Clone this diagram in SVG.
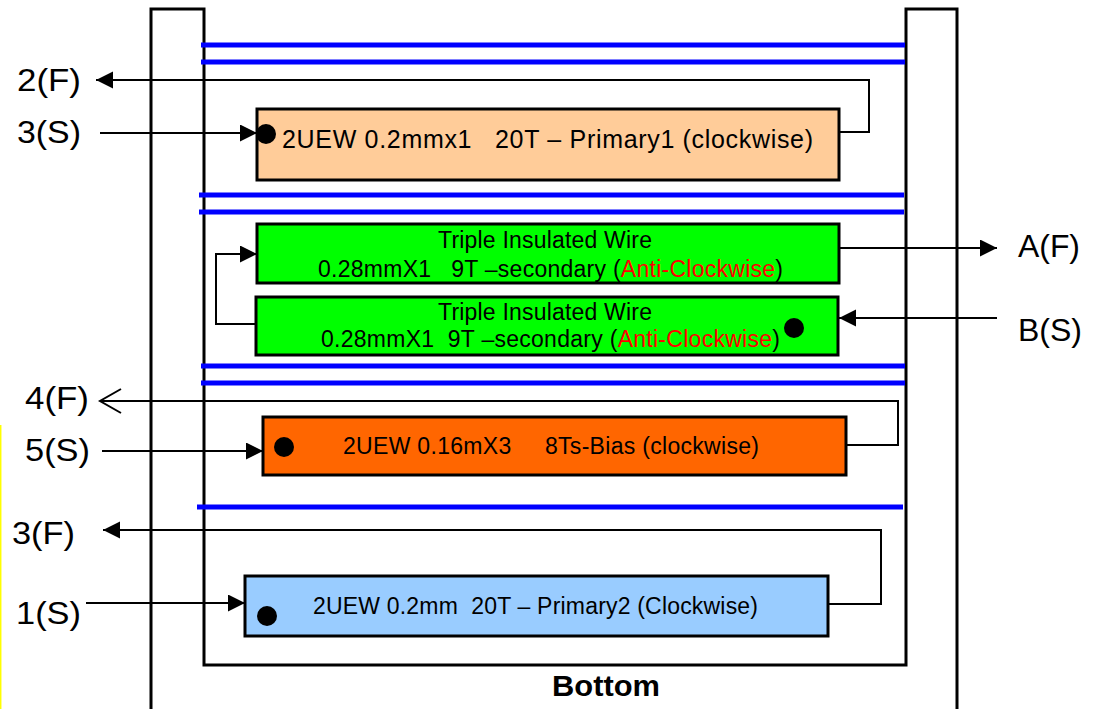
<svg xmlns="http://www.w3.org/2000/svg" width="1103" height="709" viewBox="0 0 1103 709">
<style>
.wall{fill:none;stroke:#000;stroke-width:3}
.tape{stroke:#0000FF;stroke-width:5}
.box{stroke:#000;stroke-width:3}
.wire{fill:none;stroke:#000;stroke-width:2}
.lbl{font-family:"Liberation Sans",Arial,sans-serif;font-size:31px;fill:#000}
.txt{font-family:"Liberation Sans",Arial,sans-serif;fill:#000}
.red{fill:#FF0000}
.dot{fill:#000}
</style>
<defs>
<marker id="ah" markerUnits="userSpaceOnUse" markerWidth="18" markerHeight="18" refX="17" refY="8.5" orient="auto">
<path d="M0,0 L17,8.5 L0,17 z" fill="#000"/>
</marker>
<marker id="ao" markerUnits="userSpaceOnUse" markerWidth="26" markerHeight="28" refX="22" refY="13" orient="auto">
<path d="M1,1 L22,13 L1,25" fill="none" stroke="#000" stroke-width="2"/>
</marker>
</defs>
<rect width="1103" height="709" fill="#fff"/>
<line x1="0.7" y1="425" x2="0.7" y2="709" stroke="#FFFF00" stroke-width="1.5"/>
<g id="bobbin">
<path class="wall" d="M151,709 V9 H204 V665 H906 V9 H957 V709"/>
</g>
<g id="tapes">
<line class="tape" x1="201" y1="45" x2="905" y2="45"/>
<line class="tape" x1="201" y1="62" x2="905" y2="62"/>
<line class="tape" x1="199" y1="195" x2="904" y2="195"/>
<line class="tape" x1="199" y1="212" x2="904" y2="212"/>
<line class="tape" x1="201" y1="366" x2="905" y2="366"/>
<line class="tape" x1="201" y1="383" x2="905" y2="383"/>
<line class="tape" x1="197" y1="507" x2="903" y2="507"/>
</g>
<g id="connectors">
<path class="wire" d="M835,132 H869 V80 H96" marker-end="url(#ah)"/>
<path class="wire" d="M100,133 H257" marker-end="url(#ah)"/>
<path class="wire" d="M256,324 H216 V254 H257" marker-end="url(#ah)"/>
<path class="wire" d="M840,248 H997" marker-end="url(#ah)"/>
<path class="wire" d="M997,318 H839" marker-end="url(#ah)"/>
<path class="wire" d="M846,445 H898 V401 H100" marker-end="url(#ao)"/>
<path class="wire" d="M102,451 H263" marker-end="url(#ah)"/>
<path class="wire" d="M828,604 H881 V530 H103" marker-end="url(#ah)"/>
<path class="wire" d="M86,603 H245" marker-end="url(#ah)"/>
</g>
<g id="primary1">
<rect class="box" x="257" y="109" width="582" height="71" fill="#FFCC99"/>
<circle class="dot" cx="266" cy="134" r="10"/>
<text class="txt" x="282" y="148" font-size="25" textLength="531" xml:space="preserve">2UEW 0.2mmx1   20T – Primary1 (clockwise)</text>
</g>
<g id="secondary1">
<rect class="box" x="257" y="224" width="582" height="59" fill="#00FF00"/>
<text class="txt" x="438" y="248" font-size="23" textLength="214">Triple Insulated Wire</text>
<text class="txt" x="318" y="277" font-size="23" textLength="465" xml:space="preserve">0.28mmX1   9T –secondary (<tspan class="red">Anti-Clockwise</tspan>)</text>
</g>
<g id="secondary2">
<rect class="box" x="256" y="297" width="582" height="58" fill="#00FF00"/>
<circle class="dot" cx="794" cy="328" r="10"/>
<text class="txt" x="438" y="320" font-size="23" textLength="214">Triple Insulated Wire</text>
<text class="txt" x="321" y="347" font-size="23" textLength="459" xml:space="preserve">0.28mmX1  9T –secondary (<tspan class="red">Anti-Clockwise</tspan>)</text>
</g>
<g id="bias">
<rect class="box" x="263" y="417" width="583" height="58" fill="#FF6600"/>
<circle class="dot" cx="284" cy="447" r="10"/>
<text class="txt" x="343" y="454" font-size="23" textLength="416" xml:space="preserve">2UEW 0.16mX3     8Ts-Bias (clockwise)</text>
</g>
<g id="primary2">
<rect class="box" x="245" y="576" width="583" height="60" fill="#99CCFF"/>
<circle class="dot" cx="267" cy="616" r="10"/>
<text class="txt" x="313" y="614" font-size="23" textLength="445" xml:space="preserve">2UEW 0.2mm  20T – Primary2 (Clockwise)</text>
</g>
<g id="labels">
<text class="lbl" x="17" y="91" textLength="64" lengthAdjust="spacingAndGlyphs">2(F)</text>
<text class="lbl" x="17" y="143" textLength="64" lengthAdjust="spacingAndGlyphs">3(S)</text>
<text class="lbl" x="1018" y="257" textLength="62" lengthAdjust="spacingAndGlyphs">A(F)</text>
<text class="lbl" x="1018" y="341" textLength="64" lengthAdjust="spacingAndGlyphs">B(S)</text>
<text class="lbl" x="25" y="409" textLength="64" lengthAdjust="spacingAndGlyphs">4(F)</text>
<text class="lbl" x="25" y="461" textLength="65" lengthAdjust="spacingAndGlyphs">5(S)</text>
<text class="lbl" x="12" y="544" textLength="63" lengthAdjust="spacingAndGlyphs">3(F)</text>
<text class="lbl" x="16" y="624" textLength="65" lengthAdjust="spacingAndGlyphs">1(S)</text>
<text class="txt" x="552" y="696" font-size="30" font-weight="bold" textLength="108" lengthAdjust="spacingAndGlyphs">Bottom</text>
</g>
</svg>
